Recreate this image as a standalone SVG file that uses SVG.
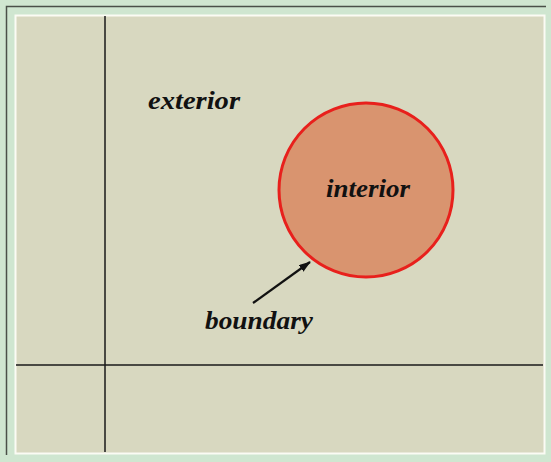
<svg xmlns="http://www.w3.org/2000/svg" width="551" height="462" viewBox="0 0 551 462">
<style>
.lbl{font-family:"Liberation Serif","Times New Roman",serif;font-style:italic;font-weight:bold;font-size:25px;fill:#111}
.ax{stroke:#1a1a1a;stroke-width:1.5;fill:none}
</style>
<defs>
<marker id="ah" markerWidth="12" markerHeight="8" refX="11" refY="4" orient="auto" markerUnits="userSpaceOnUse">
<path d="M0,0 L12,4 L0,8 Z" fill="#111"/>
</marker>
</defs>
<rect x="0" y="0" width="551" height="462" fill="#cfe6d0"/>
<path d="M6.5,455 V6.5 H546" stroke="#4a5048" stroke-width="1.5" fill="none"/>
<rect x="15.5" y="15.5" width="529" height="438" fill="#d8d8c0" stroke="#fbfbf4" stroke-width="2"/>
<g id="axes">
<line class="ax" x1="105" y1="16" x2="105" y2="452"/>
<line class="ax" x1="16" y1="365" x2="543" y2="365"/>
</g>
<g id="interior">
<circle cx="366" cy="190" r="87" fill="#d9946f" stroke="#e8201c" stroke-width="3"/>
<text class="lbl" x="326" y="197" textLength="84" lengthAdjust="spacingAndGlyphs">interior</text>
</g>
<g id="exterior">
<text class="lbl" x="148" y="109" textLength="92" lengthAdjust="spacingAndGlyphs">exterior</text>
</g>
<g id="boundary">
<text class="lbl" x="205" y="329" textLength="108" lengthAdjust="spacingAndGlyphs">boundary</text>
</g>
<g id="connectors">
<line x1="253" y1="303" x2="310" y2="262" stroke="#111" stroke-width="2.2" marker-end="url(#ah)"/>
</g>
</svg>
